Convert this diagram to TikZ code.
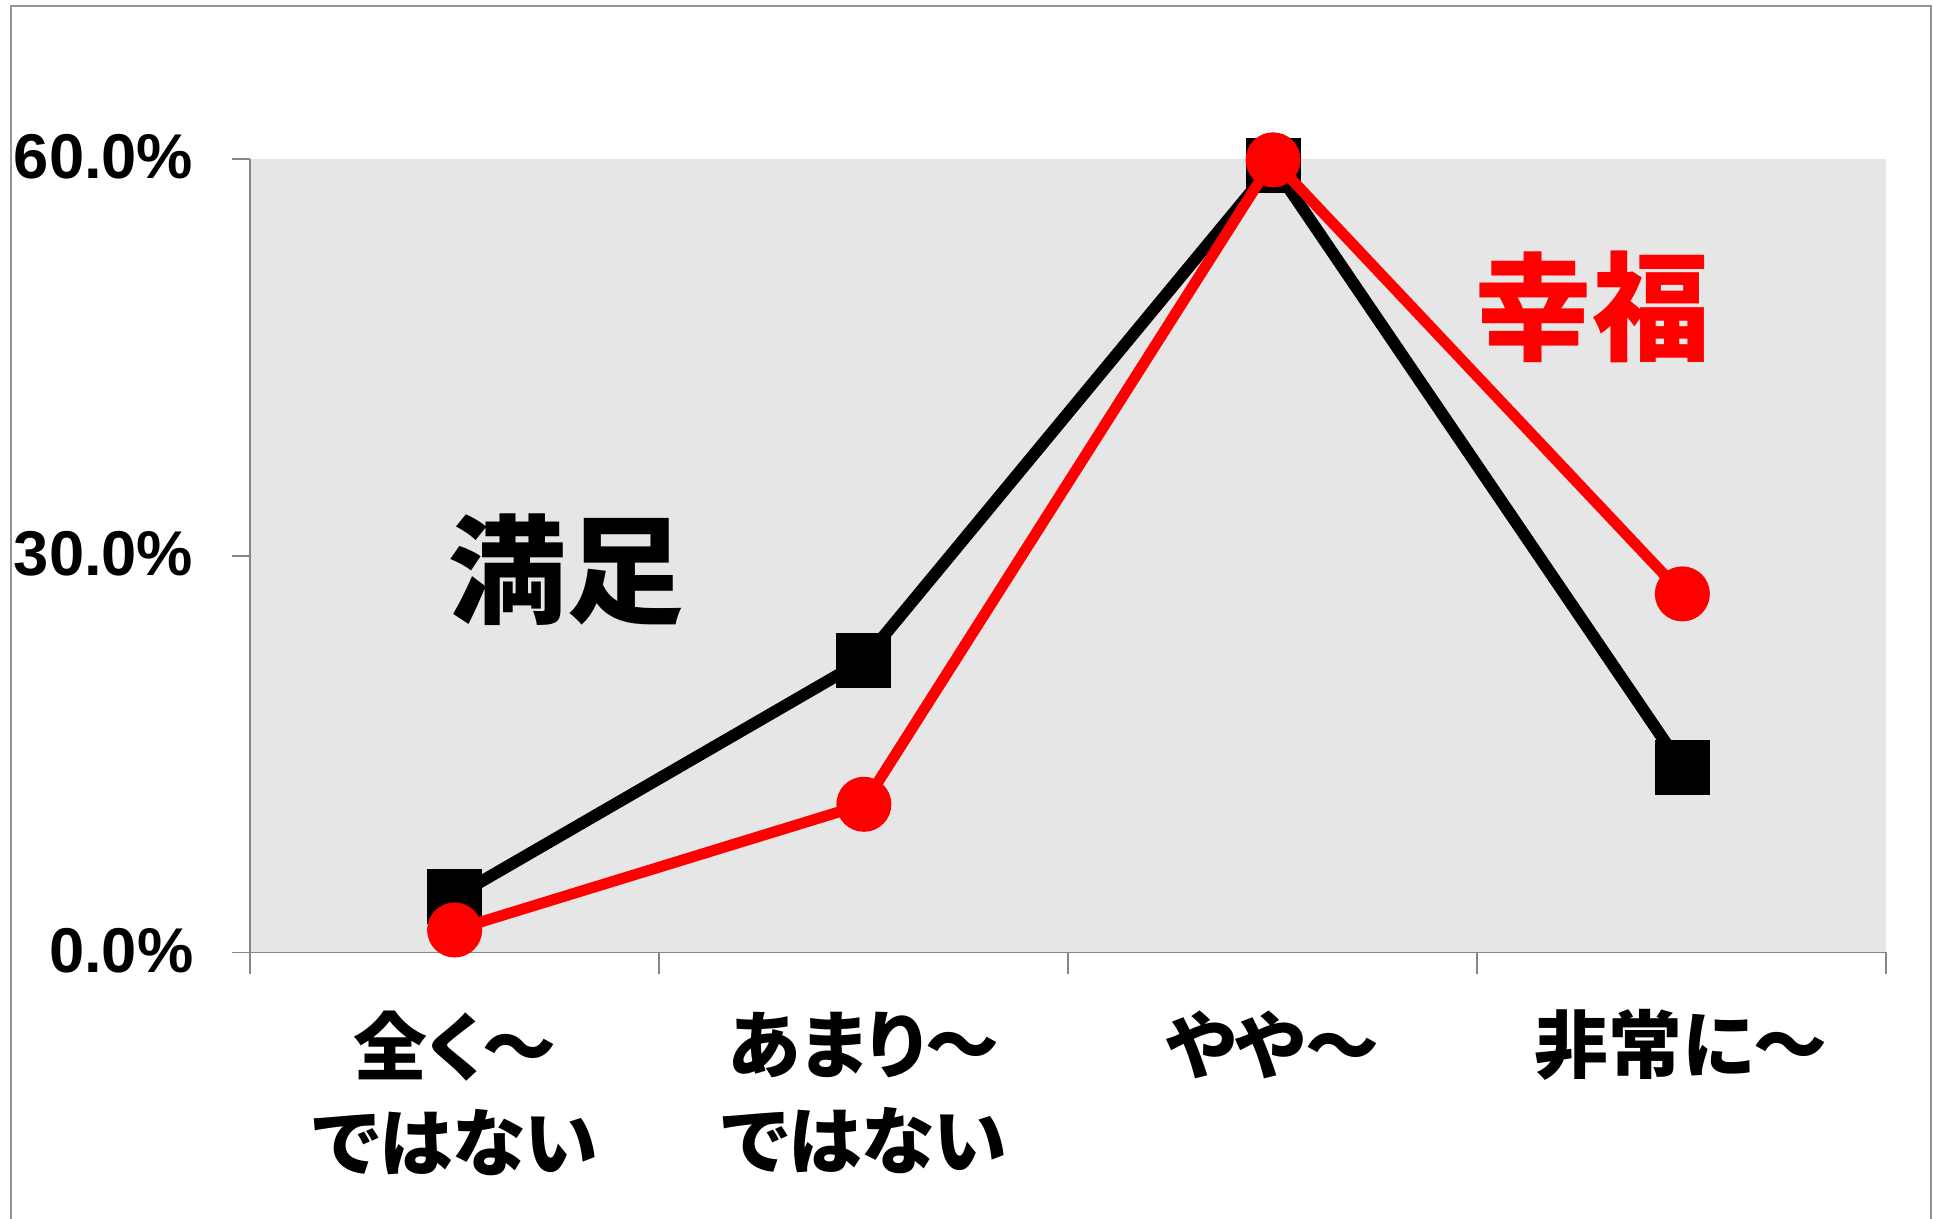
\documentclass[tikz,border=0pt]{standalone}
\usepackage{fontspec}
\setmainfont{Liberation Sans}
\newfontfamily\jpfont{Noto Sans CJK JP}[RawFeature=+palt]
\definecolor{plotgray}{HTML}{E6E6E6}
\definecolor{axisgray}{HTML}{868686}
\definecolor{framegray}{HTML}{959595}

\begin{document}
\begin{tikzpicture}[x=0.01cm, y=0.01cm, every node/.style={inner sep=0pt},
	axisline/.style={draw=axisgray, line width=0.55pt},
	manzokuline/.style={black, line width=3.4pt},
	kofukuline/.style={red, line width=3.1pt},
	sqmark/.style={rectangle, fill=black, minimum size=0.55cm},
	cimark/.style={circle, fill=red, minimum size=0.55cm},
	ylabel/.style={anchor=east, font=\fontsize{18}{18}\selectfont\bfseries},
	catlabel/.style={align=center, font=\jpfont\bfseries\fontsize{21}{27.3}\selectfont}]
			\useasboundingbox (0,0) rectangle (1934,1219);

			% Draw the outer frame
			\draw[framegray, line width=0.6pt] (11,-10) -- (11,1213) -- (1931,1213) -- (1931,-10);

			% Draw the plot area and the axes
			\fill[plotgray] (250,266.5) rectangle (1886,1060);
			\draw[axisline] (250,1060) -- (250,266.5) -- (1886,266.5);

			\draw[axisline] (232,1060) -- (250,1060);
			\draw[axisline] (232,663.25) -- (250,663.25);
			\draw[axisline] (232,266.5) -- (250,266.5);

			\draw[axisline] (250,266.5) -- (250,245);
			\draw[axisline] (659,266.5) -- (659,245);
			\draw[axisline] (1068,266.5) -- (1068,245);
			\draw[axisline] (1477,266.5) -- (1477,245);
			\draw[axisline] (1886,266.5) -- (1886,245);

			\node[ylabel] (y60) at (194,1062) {60.0\%};
			\node[ylabel] (y30) at (194,665) {30.0\%};
			\node[ylabel] (y0) at (194,268) {0.0\%};

			% Data points (category, percent)
			\begin{scope}[shift={(250,266.5)}, x=4.09cm, y=0.13225cm]
				\coordinate (s1) at (0.5, 4.2);
				\coordinate (s2) at (1.5,22.1);
				\coordinate (s3) at (2.5,59.5);
				\coordinate (s4) at (3.5,14.0);

				\coordinate (h1) at (0.5, 1.7);
				\coordinate (h2) at (1.5,11.2);
				\coordinate (h3) at (2.5,59.9);
				\coordinate (h4) at (3.5,27.1);
			\end{scope}

			% Draw the black series
			\draw[manzokuline] (s1) -- (s2) -- (s3) -- (s4);
			\node[sqmark] (s1m) at (s1) {};
			\node[sqmark] (s2m) at (s2) {};
			\node[sqmark] (s3m) at (s3) {};
			\node[sqmark] (s4m) at (s4) {};

			% Draw the red series
			\draw[kofukuline] (h1) -- (h2) -- (h3) -- (h4);
			\node[cimark] (h1m) at (h1) {};
			\node[cimark] (h2m) at (h2) {};
			\node[cimark] (h3m) at (h3) {};
			\node[cimark] (h4m) at (h4) {};

			% Series names
			\node[font=\jpfont\bfseries\fontsize{33.5}{33.5}\selectfont] (manzoku) at (566,649) {満足};
			\node[red, font=\jpfont\bfseries\fontsize{33.5}{33.5}\selectfont] (kofuku) at (1592,912) {幸福};

			% Category labels
			\node[catlabel] (c1) at (455,126) {全く～\\ではない};
			\node[catlabel] (c2) at (864,126) {あまり～\\ではない};
			\node[catlabel] (c3) at (1272.5,174) {やや～};
			\node[catlabel] (c4) at (1681,174) {非常に～};

		\end{tikzpicture}
\end{document}
